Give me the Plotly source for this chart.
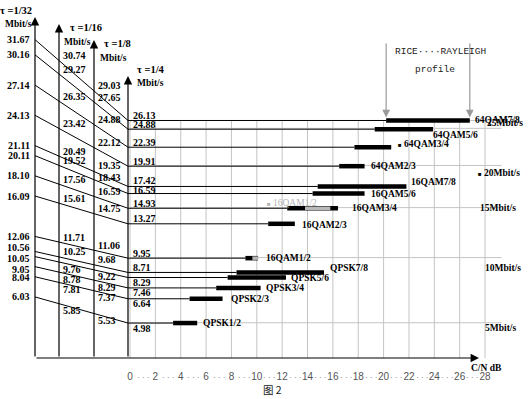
import numpy as np
import plotly.graph_objects as go

# ---------------- data ----------------
modes = ["64QAM7/8", "64QAM5/6", "64QAM3/4", "64QAM2/3", "16QAM7/8", "16QAM5/6",
         "16QAM3/4", "16QAM2/3", "16QAM1/2", "QPSK7/8", "QPSK5/6", "QPSK3/4",
         "QPSK2/3", "QPSK1/2"]
rate_gi_1_32 = [31.67, 30.16, 27.14, 24.13, 21.11, 20.11, 18.10, 16.09, 12.06, 10.56, 10.05, 9.05, 8.04, 6.03]
rate_gi_1_16 = [30.74, 29.27, 26.35, 23.42, 20.49, 19.52, 17.56, 15.61, 11.71, 10.25, 9.76, 8.78, 7.81, 5.85]
rate_gi_1_8 = [29.03, 27.65, 24.88, 22.12, 19.35, 18.43, 16.59, 14.75, 11.06, 9.68, 9.22, 8.29, 7.37, 5.53]
rate_gi_1_4 = [26.13, 24.88, 22.39, 19.91, 17.42, 16.59, 14.93, 13.27, 9.95, 8.71, 8.29, 7.46, 6.64, 4.98]
cn_rice = [20.2, 19.3, 17.7, 16.5, 14.8, 14.4, 12.4, 10.9, 9.1, 8.4, 7.7, 6.8, 4.7, 3.4]
cn_rayleigh = [26.8, 23.9, 20.6, 18.5, 21.8, 18.5, 16.4, 13.0, 10.1, 15.3, 12.3, 10.3, 7.3, 5.3]
grey_modes = ["16QAM3/4", "16QAM1/2"]
grey_from = [13.8, 9.65]
grey_to = [15.8, 10.1]
ghost_label = "16QAM1/2"
cn_ticks = list(range(0, 29, 2))
cn_tick_labels = [str(v) for v in cn_ticks]
rate_marks = [5, 10, 15, 20, 25]
rate_mark_labels = ["5Mbit/s", "10Mbit/s", "15Mbit/s", "20Mbit/s", "25Mbit/s"]
gi_headers = ["τ =1/32", "τ =1/16", "τ =1/8", "τ =1/4"]

# ---------------- layout / style constants ----------------
W, H = 531, 399
PLOT_H = 358                 # pixel row of the C/N axis line
PX_PER_DB = 12.68
DB0_PX = 130


def px_to_db(px):
    return (px - DB0_PX) / PX_PER_DB


def paper_x(px):
    return px / W


def paper_y(py):
    return (PLOT_H - py) / PLOT_H


X_RANGE = [px_to_db(0), px_to_db(W)]
GI_AXIS_PX = [35, 59, 94, 128]
GI_X = [px_to_db(p) for p in GI_AXIS_PX]
GI_TIP_PX = [17, 24, 40, 76]
Y_MAIN_RANGE = [1.7347, 6.825]   # sqrt(Mbit/s) scale used by the GI 1/4 rows
Y_32_RANGE = [-0.053, 35.62]     # Mbit/s scale of the GI 1/32 column
GRID_RIGHT_DB = 29.3
LABEL_SIDE = [1] * 10 + [-1] * 4
LABEL32_DY = [0, 0, 0, 0, 0, 0, 0, 0, 0, -4, 2, 3, 1, 0]
LABEL8_DY = [0, 0, 0, 0, -1, 3, 0, 0, 0, 0, 0, 0, 0, 0]
LABEL4_DY = [0, 0, 0, 0, -1, 2, 0, 0, 0, 0, 0, 0, 0, 0]
MODE_DX = [3, -2, 5, 4, 3, 4, 12, 5, 6, 4, 3, 3, 6, 4]
MODE_DY = [0, 6, -3, 0, -4, 0, 0, 1, 0, -4, 0, 0, 0, 0]
RATE_LABEL_PX = [483, 483, 478, 476, 485]
RATE_LABEL_DY = [5, 10, 0, 8, -5]

SERIF = "Liberation Serif"
NUM_FONT = dict(family=SERIF, size=10, color="black", weight="bold")
MODE_FONT = dict(family=SERIF, size=9.5, color="black", weight="bold")
GRID = "#c4c4c4"
SQUARE = '<span style="font-size:6px">■</span> '


def main_to_px(s):
    f = (s - Y_MAIN_RANGE[0]) / (Y_MAIN_RANGE[1] - Y_MAIN_RANGE[0])
    return PLOT_H * (1 - f)


def main_to_y2(s):
    f = (s - Y_MAIN_RANGE[0]) / (Y_MAIN_RANGE[1] - Y_MAIN_RANGE[0])
    return Y_32_RANGE[0] + f * (Y_32_RANGE[1] - Y_32_RANGE[0])


sq4 = np.sqrt(np.array(rate_gi_1_4))
top_row = float(np.sqrt(max(rate_gi_1_4)))

fig = go.Figure()

# grid of the C/N table
gx, gy = [], []
for t in cn_ticks:
    gx += [t, t, None]
    gy += [Y_MAIN_RANGE[0], top_row, None]
for r in rate_marks:
    gx += [0, GRID_RIGHT_DB, None]
    gy += [np.sqrt(r), np.sqrt(r), None]
gx += [0, cn_ticks[-1], None]
gy += [top_row, top_row, None]
fig.add_trace(go.Scatter(x=gx, y=gy, mode="lines", line=dict(color=GRID, width=1),
                         hoverinfo="skip"))

# horizontal row lines from the GI 1/4 axis to each bar
rx, ry = [], []
for i in range(len(modes)):
    rx += [GI_X[3], cn_rice[i], None]
    ry += [sq4[i], sq4[i], None]
fig.add_trace(go.Scatter(x=rx, y=ry, mode="lines", line=dict(color="black", width=1),
                         hoverinfo="skip"))

# slanted lines from the GI 1/32 column to the GI 1/4 column
sx, sy = [], []
for i in range(len(modes)):
    sx += [GI_X[0], GI_X[3], None]
    sy += [rate_gi_1_32[i], main_to_y2(sq4[i]), None]
fig.add_trace(go.Scatter(x=sx, y=sy, yaxis="y2", mode="lines",
                         line=dict(color="black", width=1), hoverinfo="skip"))

# C/N bars (Rice .. Rayleigh)
bx, by = [], []
for i in range(len(modes)):
    bx += [cn_rice[i], cn_rayleigh[i], None]
    by += [sq4[i], sq4[i], None]
fig.add_trace(go.Scatter(x=bx, y=by, mode="lines", line=dict(color="black", width=4.5),
                         hoverinfo="skip"))
hx, hy = [], []
for m, a, b in zip(grey_modes, grey_from, grey_to):
    k = modes.index(m)
    hx += [a, b, None]
    hy += [sq4[k], sq4[k], None]
fig.add_trace(go.Scatter(x=hx, y=hy, mode="lines", line=dict(color="#b8b8b8", width=3.5),
                         hoverinfo="skip"))

ann = []


def text_ann(**kw):
    base = dict(showarrow=False, xanchor="center", yanchor="middle")
    base.update(kw)
    ann.append(base)


# column value labels
for i in range(len(modes)):
    text_ann(x=GI_X[0], y=rate_gi_1_32[i], xref="x", yref="y2", text=f"{rate_gi_1_32[i]:.2f}",
             xanchor="right", xshift=-3, yshift=-LABEL32_DY[i], font=NUM_FONT)
    y_end = main_to_y2(sq4[i])
    for c, vals, nudge in ((1, rate_gi_1_16, 0), (2, rate_gi_1_8, LABEL8_DY[i])):
        t = (GI_X[c] - GI_X[0]) / (GI_X[3] - GI_X[0])
        yy = rate_gi_1_32[i] + t * (y_end - rate_gi_1_32[i])
        text_ann(x=GI_X[c], y=yy, xref="x", yref="y2", text=f"{vals[i]:.2f}",
                 xanchor="left", xshift=2,
                 yshift=(5 if LABEL_SIDE[i] > 0 else -7) - nudge, font=NUM_FONT)
    text_ann(x=GI_X[3], y=sq4[i], xref="x", yref="y", text=f"{rate_gi_1_4[i]:.2f}",
             xanchor="left", xshift=3,
             yshift=(5 if LABEL_SIDE[i] > 0 else -5) - LABEL4_DY[i], font=NUM_FONT)

# right-hand Mbit/s marks
for r, lab, pxl, dy in zip(rate_marks, rate_mark_labels, RATE_LABEL_PX, RATE_LABEL_DY):
    txt = lab if r != 20 else SQUARE + lab
    text_ann(x=px_to_db(pxl), y=np.sqrt(r), xref="x", yref="y", text=txt,
             xanchor="left", yshift=-dy, font=MODE_FONT)

# ghost label
k6 = modes.index("16QAM3/4")
text_ann(x=px_to_db(265), y=sq4[k6], xref="x", yref="y", text=SQUARE + ghost_label,
         xanchor="left", yshift=5, font=dict(family=SERIF, size=9.5, color="#b4b4b4"))

# modulation labels
for i, m in enumerate(modes):
    txt = m if m != "64QAM3/4" else SQUARE + m
    text_ann(x=cn_rayleigh[i], y=sq4[i], xref="x", yref="y", text=txt,
             xanchor="left", xshift=MODE_DX[i], yshift=-MODE_DY[i], font=MODE_FONT)

# GI axes with arrow tips
for c in range(4):
    ann.append(dict(x=GI_X[c], y=paper_y(GI_TIP_PX[c]), xref="x", yref="paper", text="",
                    showarrow=True, ax=0, ay=PLOT_H - GI_TIP_PX[c], arrowhead=2,
                    arrowsize=1.4, arrowwidth=1.2, arrowcolor="black"))
# C/N axis
ann.append(dict(x=px_to_db(479), y=0, xref="x", yref="paper", text="", showarrow=True,
                ax=-(479 - GI_AXIS_PX[0]), ay=0, arrowhead=2, arrowsize=1.4,
                arrowwidth=1.2, arrowcolor="black"))

# Rice / Rayleigh arrows
for xv in (cn_rice[0], cn_rayleigh[0]):
    ann.append(dict(x=xv, y=sq4[0], xref="x", yref="y", text="", showarrow=True,
                    ax=0, ay=42 - main_to_px(sq4[0]), standoff=3, arrowhead=2,
                    arrowsize=1.3, arrowwidth=1.2, arrowcolor="#9a9a9a"))
MONO = dict(family="Liberation Mono", size=9.5, color="#222")
text_ann(x=paper_x(440), y=paper_y(52), xref="paper", yref="paper",
         text="RICE····RAYLEIGH", font=MONO)
text_ann(x=paper_x(435), y=paper_y(69), xref="paper", yref="paper",
         text="profile", font=MONO)

# headers
HEAD_PX = [(16, 10), (86, 27), (117, 44), (151, 70)]
MB_PX = [(18, 24), (77, 42), (113, 58), (150, 83)]
for h, (hx_, hy_), (mx_, my_) in zip(gi_headers, HEAD_PX, MB_PX):
    text_ann(x=paper_x(hx_), y=paper_y(hy_), xref="paper", yref="paper", text=h,
             font=dict(family=SERIF, size=10.5, color="black", weight="bold"))
    text_ann(x=paper_x(mx_), y=paper_y(my_), xref="paper", yref="paper", text="Mbit/s",
             font=MODE_FONT)

# axis title and figure caption
text_ann(x=paper_x(486), y=paper_y(368), xref="paper", yref="paper", text="C/N dB",
         font=MODE_FONT)
text_ann(x=paper_x(272), y=paper_y(390), xref="paper", yref="paper", text="图 2",
         font=dict(family="Noto Sans CJK SC", size=10.5, color="#222"))
for v in range(1, 28, 2):
    text_ann(x=v, y=paper_y(377), xref="x", yref="paper", text="· · ·",
             font=dict(family="Liberation Sans", size=8, color="#666"))

fig.update_layout(
    width=W, height=H, margin=dict(l=0, r=0, t=0, b=H - PLOT_H),
    paper_bgcolor="white", plot_bgcolor="white", showlegend=False,
    xaxis=dict(range=X_RANGE, showgrid=False, zeroline=False, showline=False,
               tickvals=cn_ticks, ticktext=cn_tick_labels, ticks="",
               ticklabelstandoff=11,
               tickfont=dict(family="Liberation Sans", size=10, color="#555")),
    yaxis=dict(range=Y_MAIN_RANGE, visible=False),
    yaxis2=dict(range=Y_32_RANGE, visible=False, overlaying="y"),
    annotations=ann,
)

fig.write_html("out.html", config={"displayModeBar": False},
               post_script="document.body.style.margin='0px';document.body.style.overflow='hidden';")
